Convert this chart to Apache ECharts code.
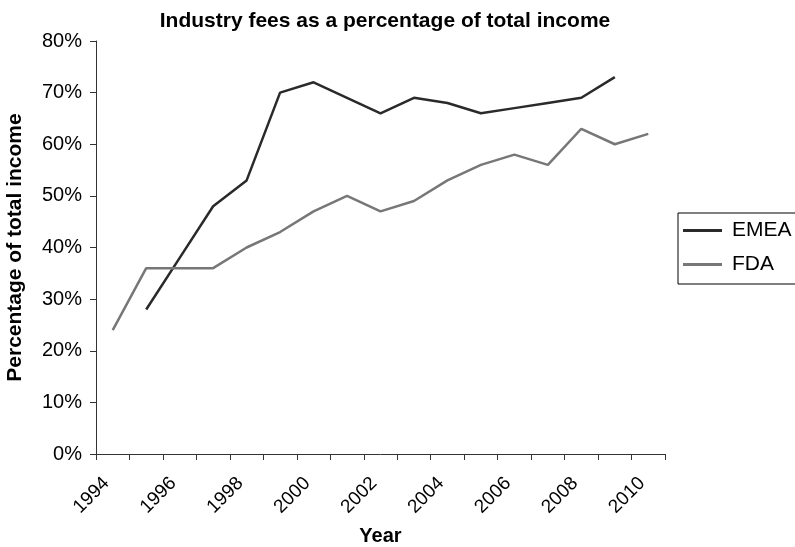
<!DOCTYPE html>
<html>
<head>
<meta charset="utf-8">
<script src="https://cdn.jsdelivr.net/npm/echarts@6/dist/echarts.min.js"></script>
<style>html,body{margin:0;padding:0;background:#fff}#c{width:795px;height:547px}</style>
</head>
<body>
<div id="c"></div>
<script>
const years = ['1994','1995','1996','1997','1998','1999','2000','2001','2002','2003','2004','2005','2006','2007','2008','2009','2010'];
const emea = [null, 28, 38, 48, 53, 70, 72, 69, 66, 69, 68, 66, 67, 68, 69, 73, null];
const fda = [24, 36, 36, 36, 40, 43, 47, 50, 47, 49, 53, 56, 58, 56, 63, 60, 62];
const yTicks = [0, 10, 20, 30, 40, 50, 60, 70, 80];

const FONT = 'Liberation Sans, Arial, sans-serif';
const chart = echarts.init(document.getElementById('c'), null, {renderer: 'canvas'});
chart.setOption({
  backgroundColor: '#fff',
  animation: false,
  title: {
    text: 'Industry fees as a percentage of total income',
    left: 380, top: 6, textAlign: 'center',
    textStyle: {fontFamily: FONT, fontWeight: 'bold', fontSize: 21, color: '#000'}
  },
  legend: {
    orient: 'vertical',
    left: 678, top: 213,
    data: ['EMEA', 'FDA'],
    icon: 'rect',
    itemWidth: 39, itemHeight: 3,
    itemGap: 13,
    padding: [7, 40, 9, 5],
    borderColor: '#000', borderWidth: 1,
    backgroundColor: '#fff',
    textStyle: {fontFamily: FONT, fontSize: 21, color: '#000', padding: [0, 0, 0, 5]}
  },
  grid: {left: 96, right: 130, top: 41, bottom: 93, containLabel: false, outerBoundsMode: 'none'},
  xAxis: {
    type: 'category',
    data: years,
    boundaryGap: true,
    name: 'Year',
    nameLocation: 'middle',
    nameGap: 72,
    nameTextStyle: {fontFamily: FONT, fontWeight: 'bold', fontSize: 20, color: '#000'},
    axisLine: {lineStyle: {color: '#333', width: 1}},
    axisTick: {show: true, alignWithLabel: false, interval: 0, length: 6, lineStyle: {color: '#333'}},
    axisLabel: {interval: 1, rotate: 45, margin: 20, padding: [0, 9, 0, 0],
      fontFamily: FONT, fontSize: 19, color: '#000'}
  },
  yAxis: {
    type: 'value',
    min: 0, max: 80, interval: 10,
    name: 'Percentage of total income',
    nameLocation: 'middle',
    nameGap: 70,
    nameTextStyle: {fontFamily: FONT, fontWeight: 'bold', fontSize: 21, color: '#000'},
    splitLine: {show: false},
    axisLine: {show: true, lineStyle: {color: '#333', width: 1}},
    axisTick: {show: true, length: 6, lineStyle: {color: '#333'}},
    axisLabel: {
      margin: 14, fontFamily: FONT, fontSize: 20, color: '#000',
      formatter: v => (yTicks.indexOf(v) >= 0 ? v + '%' : '')
    }
  },
  series: [
    {name: 'EMEA', type: 'line', data: emea, symbol: 'none', connectNulls: false,
     lineStyle: {color: '#2a2a2a', width: 2.5}, itemStyle: {color: '#2a2a2a'}},
    {name: 'FDA', type: 'line', data: fda, symbol: 'none',
     lineStyle: {color: '#777777', width: 2.5}, itemStyle: {color: '#777777'}}
  ]
});
</script>
</body>
</html>
